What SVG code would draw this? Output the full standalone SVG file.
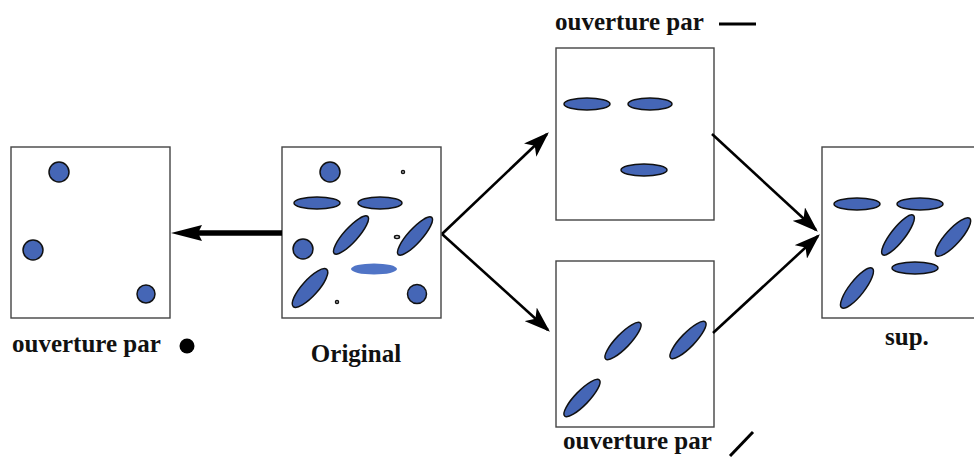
<svg xmlns="http://www.w3.org/2000/svg" width="974" height="457" viewBox="0 0 974 457">
<style>
.box{fill:#fff;stroke:#444;stroke-width:1.4}
.b{fill:#4566b6;stroke:#111;stroke-width:1.5}
.lb{fill:#5074c6;stroke:none}
.dot{fill:none;stroke:#111;stroke-width:1.5}
.t{font-family:"Liberation Serif",serif;font-weight:bold;fill:#111}
.c{stroke:#000;stroke-width:2.6;fill:none;marker-end:url(#ah)}
</style>
<defs>
<marker id="ah" markerWidth="10" markerHeight="7" refX="9" refY="3.5" orient="auto" markerUnits="strokeWidth">
<path d="M0,0 L10,3.5 L0,7 L2.5,3.5 Z" fill="#000"/>
</marker>
</defs>
<rect width="974" height="457" fill="#fff"/>

<g id="node-left">
<rect class="box" x="11" y="147" width="159" height="171"/>
<circle class="b" cx="59" cy="172" r="10"/>
<circle class="b" cx="33" cy="250" r="10"/>
<circle class="b" cx="146" cy="294" r="9"/>
<text class="t" x="12" y="352" font-size="25">ouverture par</text>
<circle cx="187" cy="346" r="7.5" fill="#000"/>
</g>

<g id="node-original">
<rect class="box" x="282" y="147" width="159" height="171"/>
<circle class="b" cx="330" cy="172" r="10"/>
<ellipse class="dot" cx="403" cy="172" rx="1.5" ry="1.5"/>
<ellipse class="b" cx="317" cy="203" rx="23" ry="6"/>
<ellipse class="b" cx="380" cy="203" rx="22" ry="6"/>
<ellipse class="b" cx="351" cy="235" rx="25" ry="7" transform="rotate(-48 351 235)"/>
<ellipse class="dot" cx="397" cy="237" rx="2.5" ry="1.5"/>
<ellipse class="b" cx="415" cy="236" rx="25" ry="7" transform="rotate(-48 415 236)"/>
<circle class="b" cx="303" cy="249" r="10"/>
<ellipse class="lb" cx="374" cy="269" rx="23" ry="5.5"/>
<ellipse class="b" cx="310" cy="288" rx="25" ry="8" transform="rotate(-48 310 288)"/>
<ellipse class="dot" cx="337" cy="302" rx="1.5" ry="1.5"/>
<circle class="b" cx="417" cy="294" r="9.5"/>
<text class="t" x="356" y="362" font-size="25" text-anchor="middle">Original</text>
</g>

<g id="node-top">
<rect class="box" x="556" y="48" width="158" height="172"/>
<ellipse class="b" cx="587" cy="104" rx="23" ry="6"/>
<ellipse class="b" cx="650" cy="104" rx="22" ry="6"/>
<ellipse class="b" cx="644" cy="170" rx="23" ry="6"/>
<text class="t" x="555" y="30" font-size="25">ouverture par</text>
<line x1="719" y1="24" x2="756" y2="24" stroke="#000" stroke-width="3"/>
</g>

<g id="node-bottom">
<rect class="box" x="556" y="261" width="158" height="166"/>
<ellipse class="b" cx="623" cy="341" rx="25" ry="7" transform="rotate(-46 623 341)"/>
<ellipse class="b" cx="688" cy="340" rx="25" ry="7" transform="rotate(-46 688 340)"/>
<ellipse class="b" cx="582" cy="398" rx="25" ry="7" transform="rotate(-46 582 398)"/>
<text class="t" x="563" y="449" font-size="25">ouverture par</text>
<line x1="730" y1="456" x2="753" y2="432" stroke="#000" stroke-width="3"/>
</g>

<g id="node-sup">
<rect class="box" x="822" y="147" width="160" height="171"/>
<ellipse class="b" cx="857" cy="204" rx="23" ry="6"/>
<ellipse class="b" cx="920" cy="204" rx="23" ry="6"/>
<ellipse class="b" cx="898" cy="235" rx="25" ry="7" transform="rotate(-52 898 235)"/>
<ellipse class="b" cx="953" cy="237" rx="25" ry="7.5" transform="rotate(-48 953 237)"/>
<ellipse class="b" cx="915" cy="268" rx="23" ry="6"/>
<ellipse class="b" cx="857" cy="288" rx="25" ry="7.5" transform="rotate(-52 857 288)"/>
<text class="t" x="885" y="345" font-size="25">sup.</text>
</g>

<g id="connectors">
<line x1="282" y1="233" x2="198" y2="233" stroke="#000" stroke-width="5.5"/>
<path d="M171,233 L202,225 L198,233 L202,241 Z" fill="#000"/>
<line class="c" x1="442" y1="234" x2="547" y2="134"/>
<line class="c" x1="442" y1="234" x2="548" y2="330"/>
<line class="c" x1="712" y1="134" x2="816" y2="230"/>
<line class="c" x1="713" y1="333" x2="818" y2="236"/>
</g>
</svg>
